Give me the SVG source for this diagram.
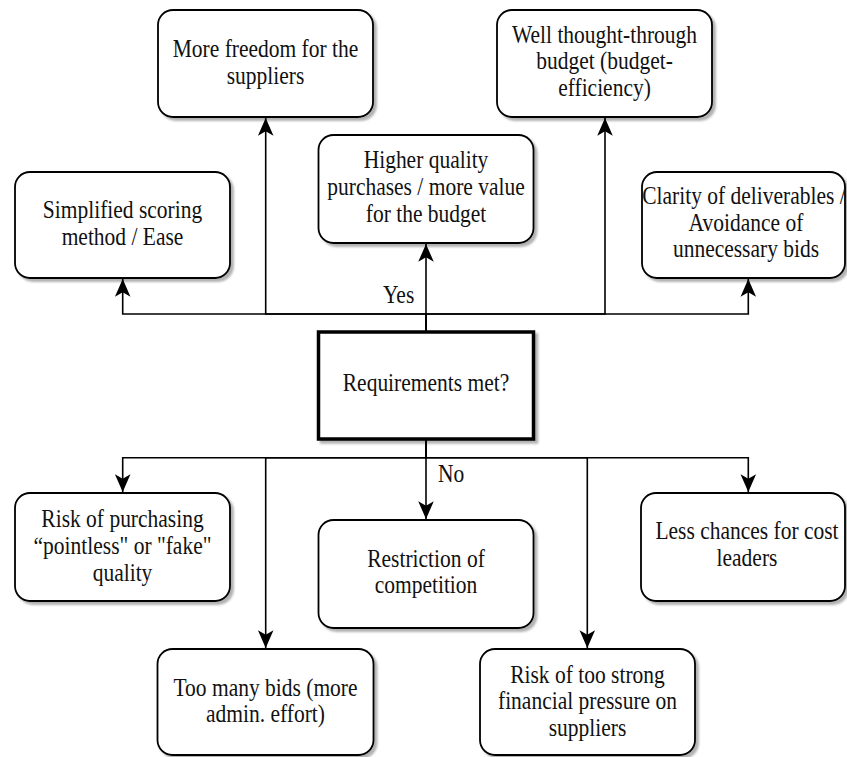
<svg xmlns="http://www.w3.org/2000/svg" width="847" height="757" viewBox="0 0 847 757">
<style>
.box{fill:#fff;stroke:#000;stroke-width:1.8;filter:url(#sh)}
.main{fill:#fff;stroke:#000;stroke-width:3.5;filter:url(#sh)}
.edge{fill:none;stroke:#000;stroke-width:1.6}
</style>
<defs>
<filter id="sh" x="-10%" y="-10%" width="130%" height="130%">
<feDropShadow dx="3" dy="3" stdDeviation="1.2" flood-color="#000" flood-opacity="0.3"/>
</filter>
<marker id="arr" markerUnits="userSpaceOnUse" markerWidth="20" markerHeight="20" viewBox="-17 -8 18 16" refX="0" refY="0" orient="auto">
<path d="M0,0 L-16,-7 L-12,0 L-16,7 Z" fill="#000"/>
</marker>
</defs>

<g id="connectors">
<path class="edge" d="M426,332 V314 H122.7 V279" marker-end="url(#arr)"/>
<path class="edge" d="M426,332 V314 H265.7 V118" marker-end="url(#arr)"/>
<path class="edge" d="M426,332 V244" marker-end="url(#arr)"/>
<path class="edge" d="M426,332 V314 H605 V118" marker-end="url(#arr)"/>
<path class="edge" d="M426,332 V314 H748.3 V279" marker-end="url(#arr)"/>
<path class="edge" d="M426,439 V457.7 H122.7 V492" marker-end="url(#arr)"/>
<path class="edge" d="M426,439 V457.7 H265.7 V648" marker-end="url(#arr)"/>
<path class="edge" d="M426,439 V519" marker-end="url(#arr)"/>
<path class="edge" d="M426,439 V457.7 H587.3 V648" marker-end="url(#arr)"/>
<path class="edge" d="M426,439 V457.7 H748.3 V492" marker-end="url(#arr)"/>
<text font-family="Liberation Serif, Times New Roman, serif" font-size="21.5" fill="#111" transform="translate(383,303) scale(1,1.2)">Yes</text>
<text font-family="Liberation Serif, Times New Roman, serif" font-size="21.5" fill="#111" transform="translate(438,481.7) scale(1,1.2)">No</text>
</g>

<g font-family="Liberation Serif, Times New Roman, serif" font-size="21.5" fill="#111" text-anchor="middle">
<g id="n-freedom">
<rect class="box" x="158" y="10" width="215" height="107" rx="15"/>
<text transform="translate(265.5,57) scale(1,1.2)"><tspan x="0" y="0">More freedom for the</tspan><tspan x="0" y="22.2">suppliers</tspan></text>
</g>

<g id="n-budget">
<rect class="box" x="497" y="10" width="215" height="107" rx="15"/>
<text transform="translate(604.5,42.5) scale(1,1.2)"><tspan x="0" y="0">Well thought-through</tspan><tspan x="0" y="22.2">budget (budget-</tspan><tspan x="0" y="44.4">efficiency)</tspan></text>
</g>

<g id="n-simplified">
<rect class="box" x="15" y="172" width="215" height="106" rx="15"/>
<text transform="translate(122.5,218.3) scale(1,1.2)"><tspan x="0" y="0">Simplified scoring</tspan><tspan x="0" y="22.2">method / Ease</tspan></text>
</g>

<g id="n-quality">
<rect class="box" x="318.5" y="135" width="215" height="108" rx="15"/>
<text transform="translate(426,168.3) scale(1,1.2)"><tspan x="0" y="0">Higher quality</tspan><tspan x="0" y="22.2">purchases / more value</tspan><tspan x="0" y="44.4">for the budget</tspan></text>
</g>

<g id="n-clarity">
<rect class="box" x="642" y="172" width="203" height="106" rx="15"/>
<text transform="translate(746,204) scale(1,1.2)"><tspan x="-2" y="0">Clarity of deliverables /</tspan><tspan x="0" y="22.2">Avoidance of</tspan><tspan x="0" y="44.4">unnecessary bids</tspan></text>
</g>

<g id="n-requirements">
<rect class="main" x="318.5" y="332" width="215" height="107"/>
<text transform="translate(426,390.7) scale(1,1.2)">Requirements met?</text>
</g>

<g id="n-fake">
<rect class="box" x="15" y="493" width="215" height="108" rx="15"/>
<text transform="translate(122.5,527.3) scale(1,1.2)"><tspan x="0" y="0">Risk of purchasing</tspan><tspan x="0" y="22.2">“pointless" or "fake"</tspan><tspan x="0" y="44.4">quality</tspan></text>
</g>

<g id="n-restriction">
<rect class="box" x="318.5" y="520" width="215" height="108" rx="15"/>
<text transform="translate(426,566.7) scale(1,1.2)"><tspan x="0" y="0">Restriction of</tspan><tspan x="0" y="22.2">competition</tspan></text>
</g>

<g id="n-costleaders">
<rect class="box" x="641" y="493" width="204" height="108" rx="15"/>
<text transform="translate(747,539.3) scale(1,1.2)"><tspan x="0" y="0">Less chances for cost</tspan><tspan x="0" y="22.2">leaders</tspan></text>
</g>

<g id="n-toomany">
<rect class="box" x="157.5" y="649" width="216" height="106" rx="15"/>
<text transform="translate(265.5,695.7) scale(1,1.2)"><tspan x="0" y="0">Too many bids (more</tspan><tspan x="0" y="22.2">admin. effort)</tspan></text>
</g>

<g id="n-pressure">
<rect class="box" x="480" y="649" width="215" height="106" rx="15"/>
<text transform="translate(587.5,682.7) scale(1,1.2)"><tspan x="0" y="0">Risk of too strong</tspan><tspan x="0" y="22.2">financial pressure on</tspan><tspan x="0" y="44.4">suppliers</tspan></text>
</g>
</g>
</svg>
